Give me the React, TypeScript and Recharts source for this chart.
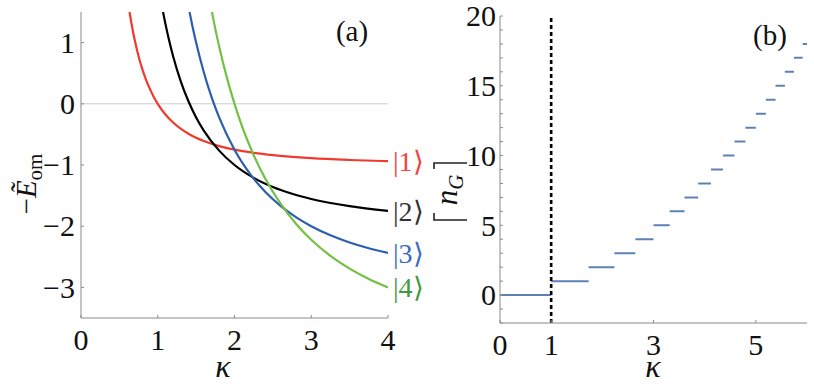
import React from 'react';
import { LineChart, Line, XAxis, YAxis, ReferenceLine } from 'recharts';

// panel (a): -E_om of the four states vs kappa
const kappa1 = [0.632, 0.66, 0.7, 0.75, 0.8, 0.85, 0.9, 0.95, 1.0, 1.1, 1.2, 1.4, 1.6, 1.8, 2.0, 2.25, 2.5, 3.0, 3.5, 4.0];
const energy1 = [1.5, 1.296, 1.041, 0.778, 0.563, 0.384, 0.235, 0.108, 0, -0.174, -0.306, -0.49, -0.609, -0.691, -0.75, -0.802, -0.84, -0.889, -0.918, -0.9375];
const kappa2 = [1.069, 1.1, 1.15, 1.2, 1.3, 1.4, 1.5, 1.6, 1.8, 2.0, 2.25, 2.5, 2.75, 3.0, 3.5, 4.0];
const energy2 = [1.5, 1.306, 1.025, 0.778, 0.367, 0.041, -0.222, -0.438, -0.765, -1.0, -1.21, -1.36, -1.471, -1.556, -1.673, -1.75];
const kappa3 = [1.414, 1.45, 1.5, 1.6, 1.7, 1.8, 2.0, 2.2, 2.4, 2.6, 2.8, 3.0, 3.25, 3.5, 3.75, 4.0];
const energy3 = [1.5, 1.281, 1.0, 0.516, 0.114, -0.222, -0.75, -1.14, -1.438, -1.669, -1.852, -2.0, -2.148, -2.265, -2.36, -2.4375];
const kappa4 = [1.706, 1.75, 1.8, 1.9, 2.0, 2.1, 2.2, 2.4, 2.6, 2.8, 3.0, 3.25, 3.5, 3.75, 4.0];
const energy4 = [1.5, 1.224, 0.938, 0.432, 0, -0.372, -0.694, -1.222, -1.633, -1.959, -2.222, -2.485, -2.694, -2.862, -3.0];

const stateNames = ['|1⟩', '|2⟩', '|3⟩', '|4⟩'];
const stateColors = ['#f03a2e', '#000000', '#2c5eb0', '#72c044'];
const labelColors = ['#ef4444', '#333333', '#3a6cc4', '#3f9a3f'];

const ticksA_x = [0, 1, 2, 3, 4];
const ticksA_y = [-3, -2, -1, 0, 1];

// panel (b): ceil(n_G) staircase, level n holds between edges[n] and edges[n+1]
const stepLevels = [0, 1, 2, 3, 4, 5, 6, 7, 8, 9, 10, 11, 12, 13, 14, 15, 16, 17, 18];
const stepEdges = [0, 1, 1.732, 2.236, 2.646, 3.0, 3.317, 3.606, 3.873, 4.123, 4.359, 4.583, 4.796, 5.0, 5.196, 5.385, 5.568, 5.745, 5.916, 6.0];

const ticksB_x = [0, 1, 3, 5];
const ticksB_y = [-2, -1, 0, 1, 2, 3, 4, 5, 6, 7, 8, 9, 10, 11, 12, 13, 14, 15, 16, 17, 18, 19, 20];
const labelsB_y = [0, 5, 10, 15, 20];

const SERIF = '"Liberation Serif", serif';
const FRAME = '#8a8a8a';
const TICK_FS = 30;

const fmt = (v: number) => (v < 0 ? '\u2212' + Math.abs(v) : String(v));

const xTick = (show: (v: number) => boolean) => (p: any) => (
  <text x={p.x} y={p.y} dy="0.71em" textAnchor="middle" fontSize={TICK_FS} fontFamily={SERIF} fill="#111">
    {show(p.payload.value) ? fmt(p.payload.value) : ''}
  </text>
);
const yTick = (show: (v: number) => boolean) => (p: any) => (
  <text x={p.x} y={p.y} dy="0.34em" textAnchor="end" fontSize={TICK_FS} fontFamily={SERIF} fill="#111">
    {show(p.payload.value) ? fmt(p.payload.value) : ''}
  </text>
);
const all = () => true;

const curves = [
  [kappa1, energy1],
  [kappa2, energy2],
  [kappa3, energy3],
  [kappa4, energy4],
].map(([ks, es]) => ks.map((k, i) => ({ k, v: es[i] })));

const stepData: { k: number; n: number | null }[] = [];
stepLevels.forEach((n, i) => {
  stepData.push({ k: stepEdges[i], n });
  stepData.push({ k: stepEdges[i + 1], n });
  stepData.push({ k: stepEdges[i + 1], n: null });
});

const endLabel = (idx: number, last: number) => (p: any) => {
  if (p.index !== last) return <g key={p.index} />;
  return (
    <text key={p.index} x={p.x + 5} y={p.y} dy="0.35em" fontSize={28} fontFamily={SERIF} fill={labelColors[idx]}>
      {stateNames[idx]}
    </text>
  );
};

const chartStyle = { fontFamily: SERIF, overflow: 'visible' as const };

const PanelA = () => (
  <LineChart width={432} height={385} margin={{ top: 12, right: 44, bottom: 0, left: 0 }} style={chartStyle}>
    <XAxis
      type="number" dataKey="k" domain={[0, 4]} ticks={ticksA_x} allowDataOverflow
      height={67} stroke={FRAME} tickSize={-3} tickMargin={14} tick={xTick(all)}
      interval={0}
    />
    <XAxis xAxisId="top" orientation="top" type="number" dataKey="k" domain={[0, 4]} height={0} stroke={FRAME} tick={false} />
    <YAxis
      type="number" domain={[-3.5, 1.5]} ticks={ticksA_y} allowDataOverflow
      width={81} stroke={FRAME} tickSize={-3} tickMargin={9} tick={yTick(all)} interval={0}
    />
    <YAxis yAxisId="right" orientation="right" domain={[-3.5, 1.5]} width={0} stroke={FRAME} tick={false} />
    <ReferenceLine y={0} stroke="#cccccc" strokeWidth={1} />
    {curves.map((d, i) => (
      <Line
        key={i} data={d} dataKey="v" type="monotone" stroke={stateColors[i]} strokeWidth={2.2}
        dot={false} isAnimationActive={false} label={endLabel(i, d.length - 1)}
      />
    ))}
  </LineChart>
);

const PanelB = () => (
  <LineChart width={394} height={385} data={stepData} margin={{ top: 16, right: 7, bottom: 0, left: 0 }} style={chartStyle}>
    <XAxis
      type="number" dataKey="k" domain={[0, 6]} ticks={ticksB_x} allowDataOverflow
      height={62} stroke={FRAME} tickSize={-3} tickMargin={14} tick={xTick(all)} interval={0}
    />
    <XAxis xAxisId="top" orientation="top" type="number" dataKey="k" domain={[0, 6]} height={0} stroke="#555" tick={false} />
    <YAxis
      type="number" domain={[-2, 20]} ticks={ticksB_y} allowDataOverflow
      width={80} stroke={FRAME} tickSize={-3} tickMargin={7} interval={0}
      tick={yTick((v) => labelsB_y.includes(v))}
    />
    <YAxis yAxisId="right" orientation="right" domain={[-2, 20]} width={0} stroke={FRAME} tick={false} />
    <Line
      dataKey="n" type="linear" stroke="#5e81b5" strokeWidth={2} dot={false}
      connectNulls={false} isAnimationActive={false}
    />
    <ReferenceLine x={1} stroke="#000" strokeWidth={2.6} strokeDasharray="4 3" />
  </LineChart>
);

export default function App() {
  return (
    <div style={{ position: 'fixed', left: 0, top: 0, width: 814, height: 385, background: '#fff', fontFamily: SERIF }}>
      <div style={{ position: 'absolute', left: 0, top: 0 }}>
        <PanelA />
      </div>
      <div style={{ position: 'absolute', left: 420, top: 0 }}>
        <PanelB />
      </div>
      <svg width={814} height={385} style={{ position: 'absolute', left: 0, top: 0, pointerEvents: 'none' }}>
        <g fontFamily={SERIF} fill="#111">
          <text x={352} y={41} fontSize={29} textAnchor="middle">(a)</text>
          <text x={770} y={45} fontSize={29} textAnchor="middle">(b)</text>
          <text x={223} y={377} fontSize={32} fontStyle="italic" textAnchor="middle">κ</text>
          <text x={653} y={377} fontSize={32} fontStyle="italic" textAnchor="middle">κ</text>
          <text transform="translate(36,184) rotate(-90)" textAnchor="middle" fontSize={29}>
            <tspan>−</tspan>
            <tspan fontStyle="italic">Ẽ</tspan>
            <tspan fontSize={21} dy={6}>om</tspan>
          </text>
          <text transform="translate(457,190) rotate(-90)" textAnchor="middle" fontSize={31}>
            <tspan fontStyle="italic">n</tspan>
            <tspan fontStyle="italic" fontSize={21} dy={6}>G</tspan>
          </text>
        </g>
        {/* ceiling brackets of the (b) axis title */}
        <g stroke="#222" strokeWidth={1.6} fill="none">
          <path d="M434 169 V163 H467" />
          <path d="M434 213 V220 H467" />
        </g>
      </svg>
    </div>
  );
}
